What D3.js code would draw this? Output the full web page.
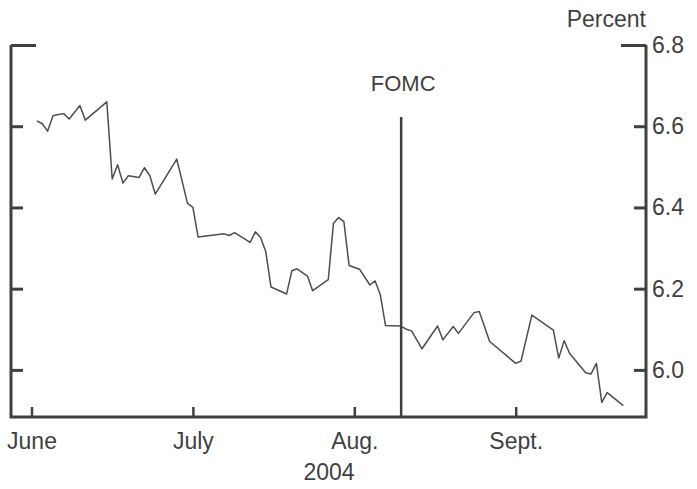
<!DOCTYPE html>
<html>
<head>
<meta charset="utf-8">
<script src="https://cdn.jsdelivr.net/npm/d3@7"></script>
<style>
  body { margin: 0; background: #fff; }
  svg text { font-family: "Liberation Sans", Arial, sans-serif; fill: #3f3f3f; }
</style>
</head>
<body>
<div id="chart" style="width:697px;height:489px"></div>
<script>
// daily yield readings, 2004
const dates = [
  "2004-06-02", "2004-06-03", "2004-06-04", "2004-06-05", "2004-06-06", "2004-06-07", "2004-06-08",
  "2004-06-10", "2004-06-11", "2004-06-15", "2004-06-16", "2004-06-17", "2004-06-18", "2004-06-19",
  "2004-06-21", "2004-06-22", "2004-06-23", "2004-06-24", "2004-06-28", "2004-06-30",
  "2004-07-01", "2004-07-02", "2004-07-07", "2004-07-08", "2004-07-09", "2004-07-12", "2004-07-13",
  "2004-07-14", "2004-07-15", "2004-07-16", "2004-07-19", "2004-07-20", "2004-07-21", "2004-07-23",
  "2004-07-24", "2004-07-27", "2004-07-28", "2004-07-29", "2004-07-30", "2004-07-31",
  "2004-08-02", "2004-08-04", "2004-08-05", "2004-08-06", "2004-08-07", "2004-08-10", "2004-08-11",
  "2004-08-12", "2004-08-14", "2004-08-17", "2004-08-18", "2004-08-20", "2004-08-21", "2004-08-24",
  "2004-08-25", "2004-08-27",
  "2004-09-01", "2004-09-02", "2004-09-04", "2004-09-08", "2004-09-09", "2004-09-10", "2004-09-11",
  "2004-09-14", "2004-09-15", "2004-09-16", "2004-09-17", "2004-09-18", "2004-09-21"
];
const yields = [
  6.613, 6.606, 6.588, 6.626, 6.629, 6.631, 6.618,
  6.651, 6.615, 6.660, 6.470, 6.505, 6.460, 6.478,
  6.474, 6.498, 6.478, 6.433, 6.519, 6.410,
  6.400, 6.327, 6.335, 6.331, 6.338, 6.314, 6.340,
  6.326, 6.291, 6.204, 6.187, 6.244, 6.249, 6.231,
  6.195, 6.222, 6.361, 6.375, 6.365, 6.257,
  6.248, 6.209, 6.219, 6.185, 6.109, 6.108, 6.100,
  6.096, 6.052, 6.108, 6.074, 6.107, 6.090, 6.141,
  6.144, 6.070,
  6.016, 6.022, 6.135, 6.098, 6.029, 6.072, 6.041,
  5.993, 5.990, 6.016, 5.920, 5.944, 5.912
];
const monthStarts = ["2004-06-01", "2004-07-01", "2004-08-01", "2004-09-01", "2004-10-01"];
const monthLabels = ["June", "July", "Aug.", "Sept."];
const yTicks = [6.0, 6.2, 6.4, 6.6, 6.8];
const fomcDate = "2004-08-10";
const fomcLabel = "FOMC";
const yearLabel = "2004";
const unitLabel = "Percent";

const parse = d3.timeParse("%Y-%m-%d");
const series = dates.map((d, i) => ({ date: parse(d), value: yields[i] }));

const width = 697, height = 489;
const frame = { left: 11, right: 646, top: 45, bottom: 417 };
const monthWidth = 161.4;
const firstTick = 31.5;
const ink = "#3d423f";

const svg = d3.select("#chart").append("svg")
  .attr("width", width)
  .attr("height", height);

// equal width per month, like the original
const x = d3.scaleTime()
  .domain(monthStarts.map(parse))
  .range(monthStarts.map((d, i) => firstTick + i * monthWidth));

const y = d3.scaleLinear()
  .domain([5.884, 6.8])
  .range([frame.bottom, frame.top]);

// frame: left, bottom and right sides
svg.append("path")
  .attr("d", `M${frame.left},${frame.top}V${frame.bottom}H${frame.right}V${frame.top}`)
  .attr("fill", "none")
  .attr("stroke", ink)
  .attr("stroke-width", 3);

// left axis, ticks only
const leftAxis = svg.append("g")
  .attr("transform", `translate(${frame.left},0)`)
  .call(d3.axisLeft(y).tickValues(yTicks).tickSize(-12).tickFormat(""));

// right axis, labels outside
const rightAxis = svg.append("g")
  .attr("transform", `translate(${frame.right},0)`)
  .call(d3.axisRight(y).tickValues(yTicks).tickSize(-12).tickPadding(6).tickFormat(d3.format(".1f")));

[leftAxis, rightAxis].forEach(g => {
  g.select(".domain").remove();
  g.selectAll(".tick line").attr("stroke", ink).attr("stroke-width", 3);
  // longer tick at the top
  g.selectAll(".tick line").filter(d => d === 6.8).attr("x2", g === leftAxis ? 25 : -25);
});
rightAxis.selectAll("text")
  .attr("font-size", 23)
  .attr("font-family", null)
  .attr("fill", null);

const bottomAxis = svg.append("g")
  .attr("transform", `translate(0,${frame.bottom})`)
  .call(d3.axisBottom(x)
    .tickValues(monthStarts.slice(0, 4).map(parse))
    .tickSize(-10)
    .tickPadding(16)
    .tickFormat((d, i) => monthLabels[i]));
bottomAxis.select(".domain").remove();
bottomAxis.selectAll(".tick line").attr("stroke", ink).attr("stroke-width", 2.5);
bottomAxis.selectAll("text")
  .attr("font-size", 23)
  .attr("font-family", null)
  .attr("fill", null);

svg.append("text")
  .attr("x", 329)
  .attr("y", 480)
  .attr("text-anchor", "middle")
  .attr("font-size", 23)
  .text(yearLabel);

svg.append("text")
  .attr("x", frame.right)
  .attr("y", 27)
  .attr("text-anchor", "end")
  .attr("font-size", 23)
  .text(unitLabel);

// FOMC marker
const fx = x(parse(fomcDate));
svg.append("line")
  .attr("x1", fx).attr("x2", fx)
  .attr("y1", 117).attr("y2", frame.bottom)
  .attr("stroke", ink)
  .attr("stroke-width", 2.5);
svg.append("text")
  .attr("x", fx + 2)
  .attr("y", 91)
  .attr("text-anchor", "middle")
  .attr("font-size", 22)
  .text(fomcLabel);

const line = d3.line()
  .x(d => x(d.date))
  .y(d => y(d.value));

svg.append("path")
  .datum(series)
  .attr("d", line)
  .attr("fill", "none")
  .attr("stroke", "#4a504c")
  .attr("stroke-width", 1.5)
  .attr("stroke-linejoin", "round");
</script>
</body>
</html>
